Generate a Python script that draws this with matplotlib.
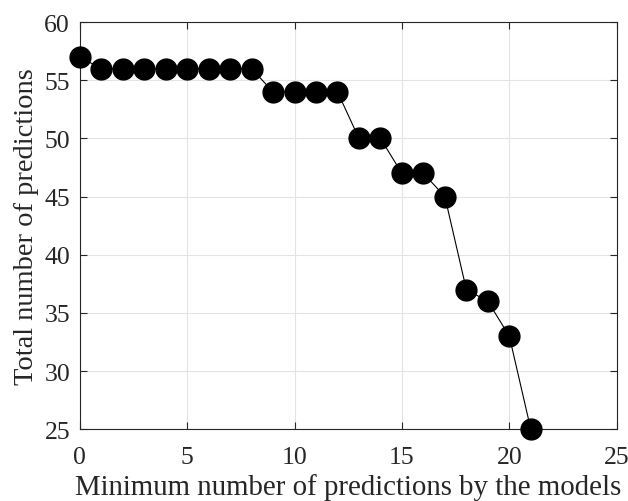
import matplotlib
matplotlib.use("Agg")
import matplotlib.pyplot as plt

# data
min_preds = [0, 1, 2, 3, 4, 5, 6, 7, 8, 9, 10, 11, 12, 13, 14, 15, 16, 17, 18, 19, 20, 21]
total_preds = [57, 56, 56, 56, 56, 56, 56, 56, 56, 54, 54, 54, 54, 50, 50, 47, 47, 45, 37, 36, 33, 25]
x_ticks = [0, 5, 10, 15, 20, 25]
y_ticks = [25, 30, 35, 40, 45, 50, 55, 60]

plt.rcParams["font.family"] = ["Liberation Serif", "DejaVu Serif"]

fig = plt.figure(figsize=(6.28, 5.02), dpi=100)
ax = fig.add_axes([0.127, 0.143, 0.855, 0.811])

ax.plot(min_preds, total_preds, "-o", color="black", linewidth=0.8,
        markersize=15, markerfacecolor="black", markeredgecolor="black",
        clip_on=False, zorder=3)

ax.set_xlim(0, 25)
ax.set_ylim(25, 60)
ax.set_xticks(x_ticks)
ax.set_yticks(y_ticks)
ax.tick_params(labelsize=18.5, direction="in", length=5, width=0.8,
               colors="#262626", labelcolor="#262626",
               top=True, right=True)
ax.tick_params(axis="y", pad=7)
ax.tick_params(axis="x", pad=12)
ax.grid(color="#e3e3e3", linewidth=0.8)
ax.set_axisbelow(True)
for s in ax.spines.values():
    s.set_linewidth(0.8)
    s.set_color("#262626")

ax.set_xlabel("Minimum number of predictions by the models", fontsize=20.8,
              labelpad=4, color="#262626")
ax.set_ylabel("Total number of predictions", fontsize=20.5, labelpad=4,
              color="#262626")

fig.savefig("out.png", dpi=100)
